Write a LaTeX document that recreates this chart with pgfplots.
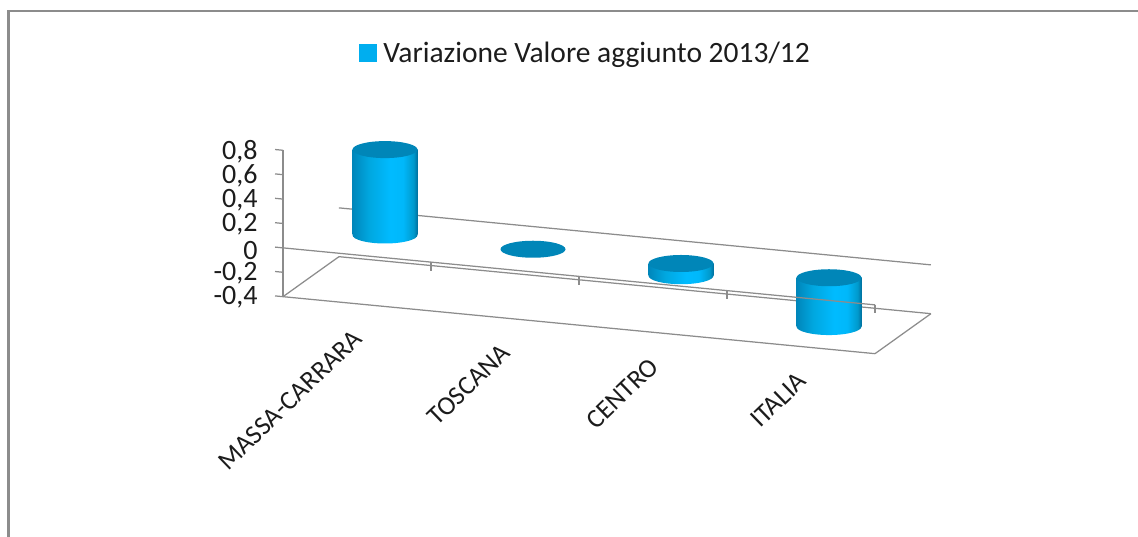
\documentclass[border=0pt]{standalone}
\usepackage{fontspec}
\setmainfont{Carlito}
\usepackage{pgfplots}
\pgfplotsset{compat=1.18}
\usetikzlibrary{shapes.geometric}
\definecolor{grid}{HTML}{8C8C8C}
\definecolor{cyltop}{HTML}{0086B8}
\definecolor{leg}{HTML}{00AEEF}
\definecolor{txt}{HTML}{1C1C1C}
\pgfdeclarehorizontalshading{cylbody}{100bp}{
  rgb(0bp)=(0,0.525,0.73); rgb(25bp)=(0,0.525,0.73); rgb(37bp)=(0,0.65,0.87); rgb(54bp)=(0,0.735,1); rgb(64bp)=(0,0.72,0.98); rgb(72bp)=(0,0.6,0.8); rgb(75bp)=(0,0.44,0.62); rgb(100bp)=(0,0.44,0.62)}
\pgfplotsset{
  skewaxis/.style={x={(148pt,-14.25pt)},y={(0pt,122pt)},xmin=-0.5,xmax=3.5,ymin=-0.4,ymax=0.8,clip=false},
  gline/.style={draw=grid,line width=1.25pt,forget plot},
  body/.style={ybar,bar width=65pt,bar shift=0pt,draw=none,shading=cylbody,forget plot},
  endcap/.style={only marks,mark=none,forget plot,nodes near coords={},
    every node near coord/.style={anchor=center,ellipse,inner sep=0pt,minimum width=65pt,minimum height=17pt,draw=none,#1}},
  topcap/.style={endcap={fill=cyltop}},
  botcap/.style={endcap={shading=cylbody}},
}
\begin{document}
\begin{tikzpicture}[x=1pt,y=1pt]
\path[use as bounding box] (0,0) rectangle (1138,537);
\draw[grid,line width=2.4pt] (8.5,0) -- (8.5,526) -- (1138,526);
% front axis: floor, y axis, category names
\begin{axis}[skewaxis,anchor=origin,at={(357pt,282pt)},
  axis lines*=left,axis line style={draw=grid,line width=1.25pt},
  xtick={0,1,2,3},xticklabels={MASSA-CARRARA,TOSCANA,CENTRO,ITALIA},
  x tick style={draw=none},
  ytick={-0.4,-0.2,0,0.2,0.4,0.6,0.8},
  y tick style={draw=grid,line width=1.25pt},
  tick align=outside,major tick length=8pt,
  xticklabel style={font=\fontsize{26.5}{30}\selectfont,text=txt,rotate=44,anchor=north east,xshift=-11.3pt,yshift=-4.7pt},
  yticklabel style={font=\fontsize{28}{32}\selectfont,text=txt,/pgf/number format/use comma,/pgf/number format/assume math mode=true,xshift=-14pt,yshift=-4pt},
]
\addplot[gline] coordinates {(-0.122,0.372) (3.878,0.372)};
\addplot[gline] coordinates {(-0.122,-0.028) (3.878,-0.028)};
\addplot[gline] coordinates {(-0.5,-0.4) (-0.122,-0.028)};
\addplot[gline] coordinates {(3.5,-0.4) (3.878,-0.028)};
\end{axis}
% cylinders: true values, each one lowered along the sloping depth of the chart
\begin{axis}[hide axis,anchor=origin,at={(385pt,302pt)},x=148pt,y=122pt,xmin=-0.5,xmax=3.5,ymin=-0.4,ymax=0.8,clip=false,
  legend style={at={(0.4635,1.578)},anchor=center,draw=none,fill=none,font=\fontsize{29.5}{34}\selectfont,text=txt,inner sep=0pt},
  legend image code/.code={\fill[leg] (0pt,-8.5pt) rectangle (17pt,8.5pt);\path (22pt,0pt);},
]
\addlegendimage{leg}
\addlegendentry{Variazione Valore aggiunto 2013/12}
\addplot[botcap] coordinates {(0,0)};
\addplot[body] coordinates {(0,0.7)};
\addplot[topcap] coordinates {(0,0.7)};
\addplot[topcap,yshift=-14.25pt] coordinates {(1,0)};
\addplot[botcap,yshift=-28.5pt] coordinates {(2,-0.1)};
\addplot[body,yshift=-28.5pt] coordinates {(2,-0.1)};
\addplot[topcap,yshift=-28.5pt] coordinates {(2,0)};
\addplot[botcap,yshift=-42.75pt] coordinates {(3,-0.4)};
\addplot[body,yshift=-42.75pt] coordinates {(3,-0.4)};
\addplot[topcap,yshift=-42.75pt] coordinates {(3,0)};
\end{axis}
% front edge of the zero plane and its ticks, over the cylinders
\begin{axis}[skewaxis,hide axis,anchor=origin,at={(357pt,282pt)}]
\addplot[gline] coordinates {(-0.5,0) (3.5,0)};
\addplot[gline] coordinates {(0.5,0) (0.5,-0.07)};
\addplot[gline] coordinates {(1.5,0) (1.5,-0.07)};
\addplot[gline] coordinates {(2.5,0) (2.5,-0.07)};
\addplot[gline] coordinates {(3.5,0) (3.5,-0.07)};
\end{axis}
\end{tikzpicture}
\end{document}
